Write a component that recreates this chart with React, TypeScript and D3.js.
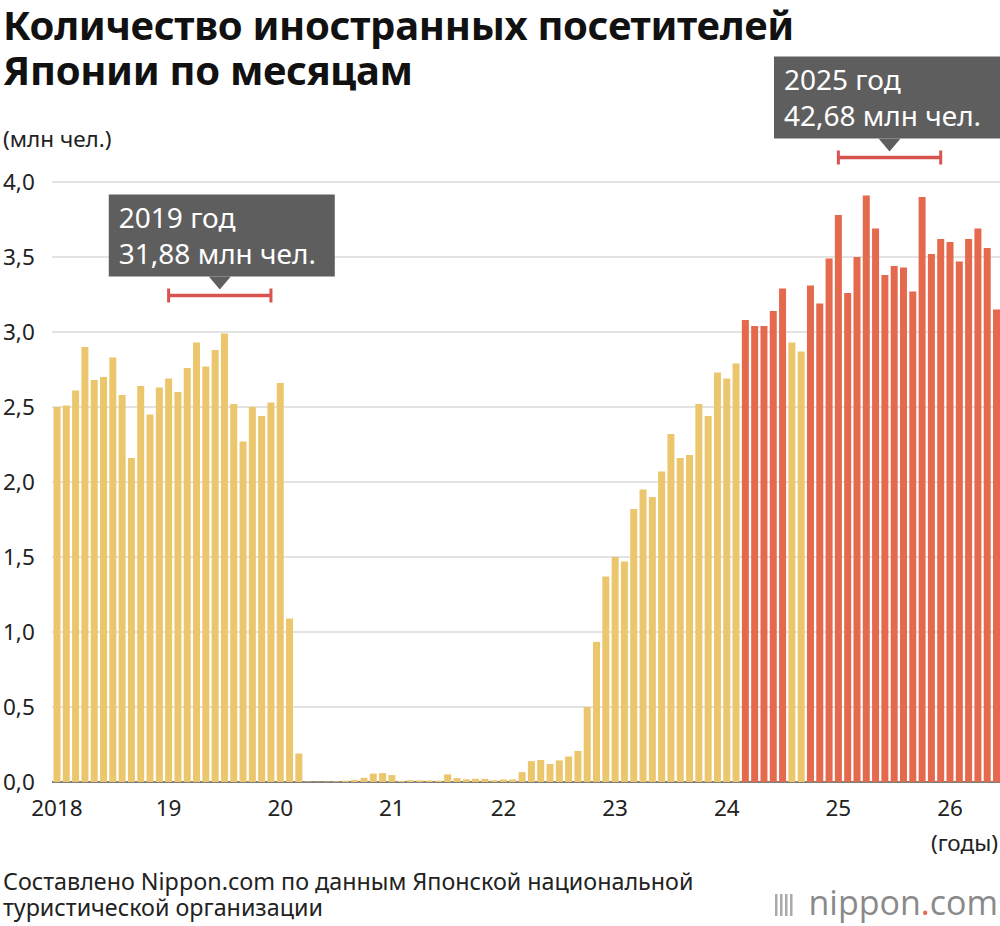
import * as d3 from "d3"

const startYear = 2018
const values: number[] = [
  // 2018
  2.5, 2.51, 2.61, 2.9, 2.68, 2.7, 2.83, 2.58, 2.16, 2.64, 2.45, 2.63,
  // 2019
  2.69, 2.6, 2.76, 2.93, 2.77, 2.88, 2.99, 2.52, 2.27, 2.5, 2.44, 2.53,
  // 2020
  2.66, 1.09, 0.19, 0.003, 0.002, 0.003, 0.004, 0.009, 0.014, 0.028, 0.056, 0.059,
  // 2021
  0.046, 0.007, 0.012, 0.011, 0.01, 0.009, 0.051, 0.026, 0.018, 0.022, 0.021, 0.012,
  // 2022
  0.017, 0.017, 0.066, 0.139, 0.147, 0.12, 0.144, 0.17, 0.207, 0.499, 0.934, 1.37,
  // 2023
  1.5, 1.47, 1.82, 1.95, 1.9, 2.07, 2.32, 2.16, 2.18, 2.52, 2.44, 2.73,
  // 2024
  2.69, 2.79, 3.08, 3.04, 3.04, 3.14, 3.29, 2.93, 2.87, 3.31, 3.19, 3.49,
  // 2025
  3.78, 3.26, 3.5, 3.91, 3.69, 3.38, 3.44, 3.43, 3.27, 3.9, 3.52, 3.62,
  // 2026
  3.6, 3.47, 3.62, 3.69, 3.56, 3.15,
]
const yTicks = [0, 0.5, 1, 1.5, 2, 2.5, 3, 3.5, 4]
const xTickLabels = ["2018", "19", "20", "21", "22", "23", "24", "25", "26"]
const callouts = [
  { year: 2019, line1: "2019 год", line2: "31,88 млн чел." },
  { year: 2025, line1: "2025 год", line2: "42,68 млн чел." },
]

const YELLOW = "#ecc66c"
const RED = "#e5694d"
const GREY = "#5e5e5e"
const BRACKET = "#d9534f"
const FONT = "'Noto Sans', sans-serif"

export default function App() {
  const width = 1000
  const height = 926
  const step = (950 - 57) / 96
  const x = (i: number) => 57 + i * step
  const y = d3.scaleLinear().domain([0, 4]).range([782, 182])
  const barW = 7

  return (
    <svg width={width} height={height} style={{ display: "block", position: "absolute", left: 0, top: 0, fontFamily: FONT }}>
      <rect width={width} height={height} fill="#fff" />
      <text x={3} y={40} fontSize={40} fontWeight={700} fill="#111" letterSpacing={-0.3}>Количество иностранных посетителей</text>
      <text x={3} y={85} fontSize={40} fontWeight={700} fill="#111" letterSpacing={-0.3}>Японии по месяцам</text>
      <text x={3} y={147} fontSize={22.5} fill="#222">(млн чел.)</text>

      {yTicks.map((t) => (
        <g key={t}>
          <line x1={52} x2={1000} y1={y(t)} y2={y(t)} stroke={t === 0 ? "#555" : "#c8c8c8"} strokeWidth={t === 0 ? 1.5 : 1.2} />
          <text x={3} y={y(t) + 8} fontSize={22.5} fill="#222">{t.toFixed(1).replace(".", ",")}</text>
        </g>
      ))}

      {values.map((v, i) => (
        <rect key={i} x={x(i) - barW / 2} y={y(v)} width={barW} height={y(0) - y(v)} fill={v >= 3 ? RED : YELLOW} />
      ))}

      {xTickLabels.map((l, k) => (
        <text key={l} x={x(k * 12)} y={816} fontSize={22.5} textAnchor="middle" fill="#222">{l}</text>
      ))}
      <text x={998} y={851} fontSize={22.5} textAnchor="end" fill="#222">(годы)</text>

      {callouts.map((c) => {
        const i0 = (c.year - startYear) * 12
        const x0 = x(i0)
        const x1 = x(i0 + 11)
        const mid = (x0 + x1) / 2
        const maxV = d3.max(values.slice(i0, i0 + 12)) as number
        const by = y(maxV) - 38
        const bh = 82
        const bw = 226
        const bx = Math.min(mid - 111, width - bw)
        const top = by - 19 - bh
        return (
          <g key={c.year}>
            <line x1={x0} x2={x1} y1={by} y2={by} stroke={BRACKET} strokeWidth={3.5} />
            <line x1={x0} x2={x0} y1={by - 7} y2={by + 7} stroke={BRACKET} strokeWidth={3} />
            <line x1={x1} x2={x1} y1={by - 7} y2={by + 7} stroke={BRACKET} strokeWidth={3} />
            <rect x={bx} y={top} width={bw} height={bh} fill={GREY} />
            <path d={`M${mid - 11},${top + bh} L${mid + 11},${top + bh} L${mid},${top + bh + 13} Z`} fill={GREY} />
            <text x={bx + 10} y={top + 33} fontSize={28} fill="#fff">{c.line1}</text>
            <text x={bx + 10} y={top + 69} fontSize={28} fill="#fff">{c.line2}</text>
          </g>
        )
      })}

      <text x={3} y={890} fontSize={23.3} fill="#222">Составлено Nippon.com по данным Японской национальной</text>
      <text x={3} y={916} fontSize={23.3} fill="#222">туристической организации</text>

      <g>
        {[0, 1, 2, 3].map((k) => (
          <rect key={k} x={775 + k * 5} y={894} width={2.5} height={22} fill="#aaa" />
        ))}
        <text x={998} y={915} fontSize={34} textAnchor="end" fill="#8a8a8a" fontFamily="'Open Sans', sans-serif">
          nippon<tspan fill={RED}>.</tspan>com
        </text>
      </g>
    </svg>
  )
}
